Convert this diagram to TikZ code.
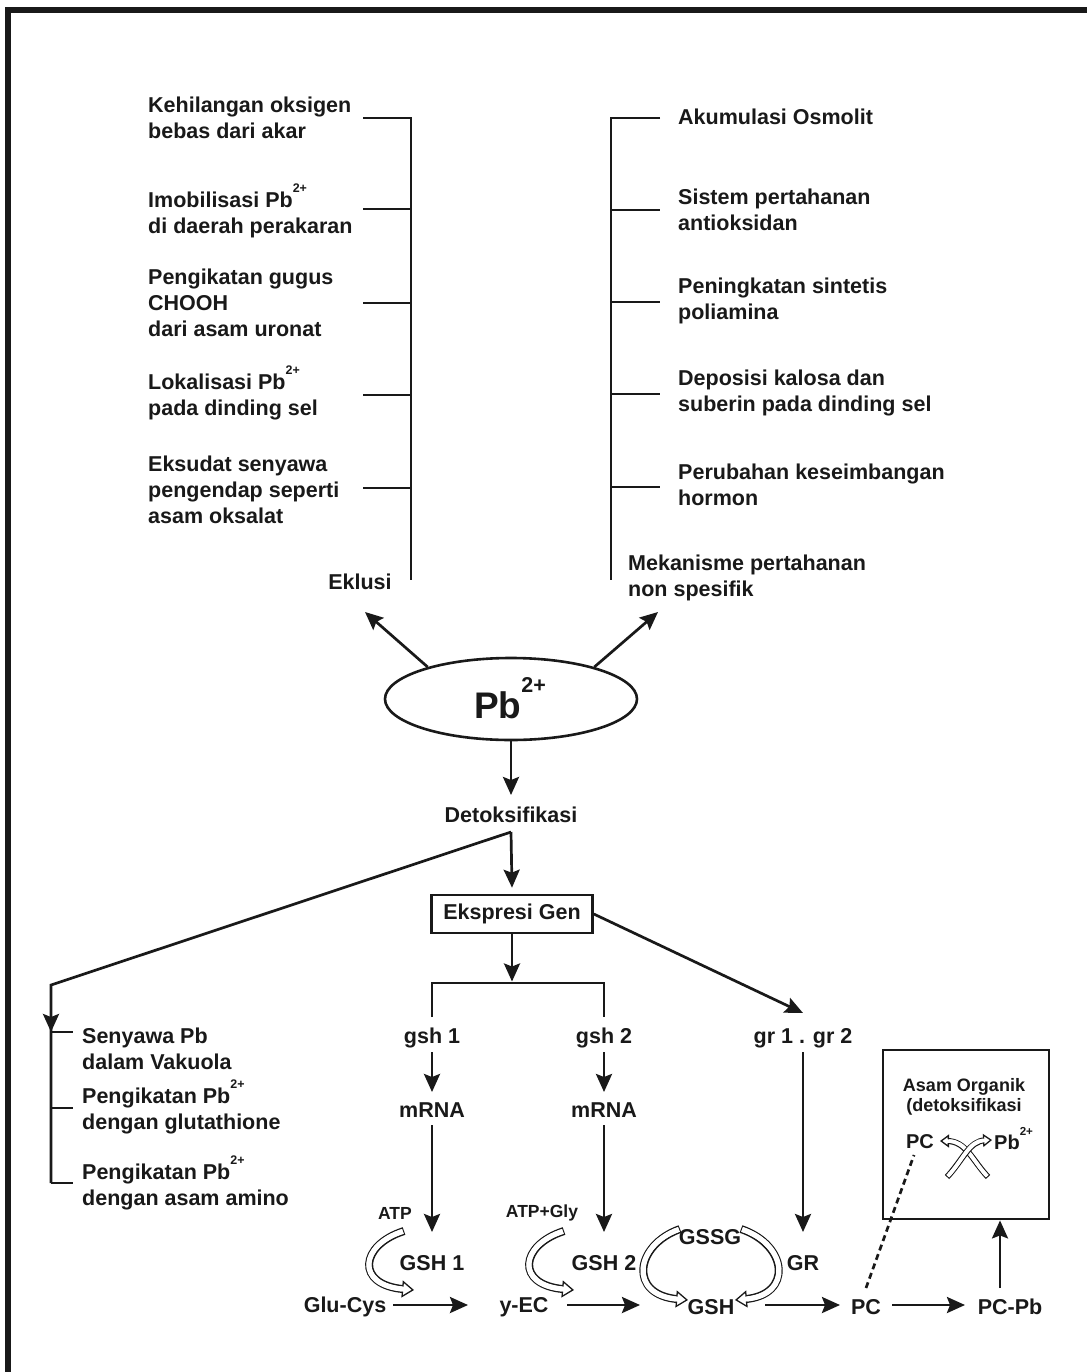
\documentclass[tikz,border=0pt]{standalone}
\usepackage{fontspec}
\setmainfont{Liberation Sans}
\usepackage{graphicx}
\usetikzlibrary{arrows.meta,shapes.geometric}
\newcommand{\pbsup}{\smash{\raisebox{0.7em}{\scalebox{0.58}{2+}}}}
% #1 outer width, #2 inner width, #3 head length, #4 head width, #5 black shorten, #6 path
\newcommand{\hollowarrow}[6]{%
  \draw[line width=#1, draw=black!90, line cap=butt, shorten >=#5] #6;
  \draw[line width=#2, white, line cap=butt, shorten <=1.2pt,
    -{Triangle[open, color=black!90, fill=white, length=#3, width=#4, line width=1.3pt]}] #6;
  \draw[line width=#2, white, line cap=butt, shorten <=1.2pt, shorten >=#5] #6;
}
\begin{document}
\begin{tikzpicture}[x=1pt,y=-1pt,
  txt/.style={font=\fontsize{21.5}{26}\selectfont\bfseries, text=black!90, inner sep=0pt, align=left},
  small/.style={font=\fontsize{17.5}{20}\selectfont\bfseries, text=black!90, inner sep=0pt, align=center},
  ln/.style={line width=2.7pt, draw=black!90},
  arr/.style={ln, -{Stealth[length=18pt,width=16pt,inset=3pt]}}]
\useasboundingbox (0,0) rectangle (1086,1372);
% frame
\draw[line width=5.5pt, draw=black!90, line join=miter] (8,1380) -- (8,10) -- (1095,10);

% ---------- left top bracket (Eklusi)
\node[txt, anchor=west] (k1) at (148,118) {Kehilangan oksigen\\bebas dari akar};
\node[txt, anchor=west] (k2) at (148,215) {Imobilisasi Pb\pbsup\\di daerah perakaran};
\node[txt, anchor=west] (k3) at (148,303) {Pengikatan gugus\\CHOOH\\dari asam uronat};
\node[txt, anchor=west] (k4) at (148,397) {Lokalisasi Pb\pbsup\\pada dinding sel};
\node[txt, anchor=west] (k5) at (148,490) {Eksudat senyawa\\pengendap seperti\\asam oksalat};
\node[txt] (eklusi) at (360,582) {Eklusi};
\coordinate (lbtop) at (411,118);
\coordinate (lbbot) at (411,580);
\draw[ln] (363,118) -- (lbtop) -- (lbbot);
\foreach \yy in {209,303,395,488} \draw[ln] (363,\yy) -- (411,\yy);

% ---------- right top bracket
\node[txt, anchor=west] (r1) at (678,117) {Akumulasi Osmolit};
\node[txt, anchor=west] (r2) at (678,210) {Sistem pertahanan\\antioksidan};
\node[txt, anchor=west] (r3) at (678,301) {Peningkatan sintetis\\poliamina};
\node[txt, anchor=west] (r4) at (678,393) {Deposisi kalosa dan\\suberin pada dinding sel};
\node[txt, anchor=west] (r5) at (678,485) {Perubahan keseimbangan\\hormon};
\node[txt, anchor=west] (mek) at (628,578) {Mekanisme pertahanan\\non spesifik};
\coordinate (rbtop) at (611,118);
\coordinate (rbbot) at (611,580);
\draw[ln] (660,118) -- (rbtop) -- (rbbot);
\foreach \yy in {210,302,394,487} \draw[ln] (611,\yy) -- (660,\yy);

% ---------- Pb ellipse
\node[ellipse, draw=black!90, line width=2.6pt, minimum width=252pt, minimum height=82pt, inner sep=0pt] (pb) at (511,699) {};
\node[font=\fontsize{37}{40}\selectfont\bfseries, text=black!90, inner sep=0pt] (pbtxt) at (510,705) {Pb\pbsup};
\coordinate (tipL) at (365,612);
\coordinate (tipR) at (658,612);
\draw[arr] (pb.159) -- (tipL);
\draw[arr] (pb.21) -- (tipR);

\node[txt] (detoks) at (511,815) {Detoksifikasi};
\draw[arr] (pb.south) -- ([yshift=20pt]detoks.center);
\coordinate (dsplit) at (511,832);
\node[txt, draw=black!90, line width=2.6pt, minimum width=161pt, minimum height=38pt, align=center] (eks) at (512,914) {Ekspresi Gen};
\draw[arr] (dsplit) -- ([yshift=6pt]eks.north);

% ---------- left lower bracket
\coordinate (lcorner) at (51,985);
\coordinate (lcbot) at (51,1183);
\draw[ln, line join=miter] (dsplit) -- (lcorner) -- (lcbot);
\draw[arr] (lcorner) -- (51,1032);
\foreach \yy in {1032,1108,1183} \draw[ln] (51,\yy) -- (73,\yy);
\node[txt, anchor=west] (v1) at (82,1049) {Senyawa Pb\\dalam Vakuola};
\node[txt, anchor=west] (v2) at (82,1111) {Pengikatan Pb\pbsup\\dengan glutathione};
\node[txt, anchor=west] (v3) at (82,1187) {Pengikatan Pb\pbsup\\dengan asam amino};

% ---------- gene branch
\coordinate (bar) at (512,983);
\draw[arr, shorten >=1.5pt] (eks.south) -- (bar);
\node[txt] (gsh1) at (432,1038) {gsh 1};
\node[txt] (gsh2) at (604,1038) {gsh 2};
\node[txt] (gr) at (803,1038) {gr 1 . gr 2};
\draw[ln, line join=miter] ([yshift=21pt]gsh1.center) -- (gsh1.center |- bar) -- (gsh2.center |- bar) -- ([yshift=21pt]gsh2.center);
\draw[arr] (eks.east) -- ([yshift=25pt]gr.center);

\node[txt] (mrna1) at (432,1110) {mRNA};
\node[txt] (mrna2) at (604,1110) {mRNA};
\draw[arr] ([yshift=-14pt]gsh1.center) -- ([yshift=18pt]mrna1.center);
\draw[arr] ([yshift=-14pt]gsh2.center) -- ([yshift=18pt]mrna2.center);

\node[small] (atp) at (395,1213) {ATP};
\node[small] (atpgly) at (542,1213) {ATP+Gly};
\node[txt] (gshA) at (432,1263) {GSH 1};
\node[txt] (gshB) at (604,1263) {GSH 2};
\node[txt] (gssg) at (710,1237) {GSSG};
\node[txt] (grl) at (803,1263) {GR};
\draw[arr] ([yshift=-15pt]mrna1.center) -- ([yshift=31pt]gshA.center);
\draw[arr] ([yshift=-15pt]mrna2.center) -- ([yshift=31pt]gshB.center);
\draw[arr] ([yshift=-14pt]gr.center) -- ([yshift=31pt]grl.center);

% ---------- bottom row
\node[txt] (glucys) at (345,1307) {Glu-Cys};
\node[txt] (yec) at (524,1307) {y-EC};
\node[txt] (gsh) at (711,1307) {GSH};
\node[txt] (pc) at (866,1307) {PC};
\node[txt] (pcpb) at (1010,1307) {PC-Pb};
\draw[arr] ([xshift=48pt,yshift=2pt]glucys.center) -- ([xshift=-56pt,yshift=2pt]yec.center);
\draw[arr] ([xshift=43pt,yshift=2pt]yec.center) -- ([xshift=-71pt,yshift=2pt]gsh.center);
\draw[arr] ([xshift=54pt,yshift=2pt]gsh.center) -- ([xshift=-26pt,yshift=2pt]pc.center);
\draw[arr] ([xshift=26pt,yshift=2pt]pc.center) -- ([xshift=-45pt,yshift=2pt]pcpb.center);

% ---------- organic acid box
\node[draw=black!90, line width=2.8pt, minimum width=166pt, minimum height=169pt, inner sep=0pt] (orgbox) at (966,1134.5) {};
\node[font=\fontsize{18}{19.5}\selectfont\bfseries, text=black!90, align=center, inner sep=0pt] (asam) at (964,1097) {Asam Organik\\(detoksifikasi};
\node[font=\fontsize{20}{22}\selectfont\bfseries, text=black!90, inner sep=0pt] (pcin) at (920,1142) {PC};
\node[font=\fontsize{20}{22}\selectfont\bfseries, text=black!90, inner sep=0pt, anchor=west] (pbin) at (994,1142) {Pb\pbsup};
\coordinate (upb) at ([xshift=-10pt,yshift=19pt]pcpb.center);
\draw[arr] (upb) -- (upb |- orgbox.south);
\draw[ln, dash pattern=on 6pt off 4pt] ([yshift=19pt]pc.center) -- ([xshift=-6pt,yshift=-13pt]pcin.center);

% ---------- hollow curved arrows
\coordinate (c1s) at (404,1231); \coordinate (c1e) at (414,1290);
\coordinate (c2s) at (564,1231); \coordinate (c2e) at (574,1290);
\coordinate (c3s) at (680,1229); \coordinate (c3e) at (688,1300);
\coordinate (c4s) at (741,1229); \coordinate (c4e) at (735,1300);
\hollowarrow{8pt}{5pt}{12pt}{17pt}{10pt}{(c1s) .. controls (360,1245) and (355,1285) .. (c1e)}
\hollowarrow{8pt}{5pt}{12pt}{17pt}{10pt}{(c2s) .. controls (520,1245) and (515,1285) .. (c2e)}
\hollowarrow{8pt}{5pt}{12pt}{17pt}{10pt}{(c3s) .. controls (635,1245) and (628,1295) .. (c3e)}
\hollowarrow{8pt}{5pt}{12pt}{17pt}{10pt}{(c4s) .. controls (788,1245) and (793,1295) .. (c4e)}
\coordinate (x1s) at (988,1177); \coordinate (x1e) at (940,1141);
\coordinate (x2s) at (947,1177); \coordinate (x2e) at (992,1140);
\hollowarrow{6pt}{3.6pt}{9pt}{13pt}{7pt}{(x1s) .. controls (972,1160) and (966,1141) .. (x1e)}
\hollowarrow{6pt}{3.6pt}{9pt}{13pt}{7pt}{(x2s) .. controls (963,1160) and (969,1141) .. (x2e)}
\end{tikzpicture}
\end{document}
